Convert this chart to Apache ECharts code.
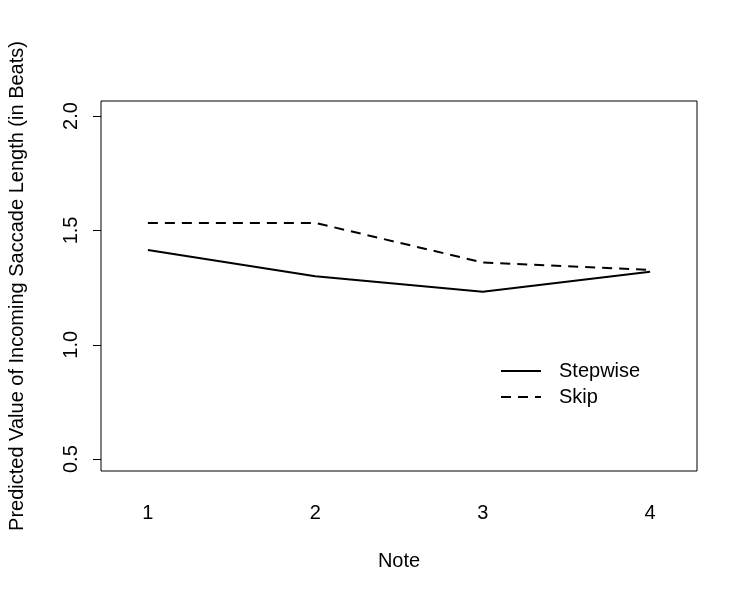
<!DOCTYPE html>
<html>
<head>
<meta charset="utf-8">
<script src="https://cdn.jsdelivr.net/npm/echarts@6/dist/echarts.min.js"></script>
<style>
  html, body { margin: 0; padding: 0; background: #fff; }
  #chart { width: 750px; height: 600px; }
</style>
</head>
<body>
<div id="chart"></div>
<script>
// notes on the x axis
var notes = [1, 2, 3, 4]
// predicted saccade length per note
var stepwise = [1.414, 1.300, 1.232, 1.319]
var skip = [1.533, 1.533, 1.360, 1.327]
var yTicks = [0.5, 1.0, 1.5, 2.0]

var font = 'Liberation Sans, Arial, sans-serif'

function pairs(xs, ys) {
  return xs.map(function (x, i) { return [x, ys[i]] })
}

var chart = echarts.init(document.getElementById('chart'))
chart.setOption({
  animation: false,
  backgroundColor: '#fff',
  textStyle: { fontFamily: font },
  grid: {
    left: 101,
    right: 53,
    top: 101,
    bottom: 129,
    outerBoundsMode: 'none',
    containLabel: false,
    show: true,
    borderColor: '#000',
    borderWidth: 1
  },
  legend: {
    orient: 'vertical',
    left: 495,
    top: 356,
    itemWidth: 40,
    itemHeight: 20,
    itemGap: 6,
    textStyle: { fontSize: 20, color: '#000', fontFamily: font, padding: [0, 0, 0, 13] },
    itemStyle: { opacity: 0 },
    data: ['Stepwise', 'Skip']
  },
  xAxis: {
    type: 'value',
    min: 0.72,
    max: 4.28,
    name: 'Note',
    nameLocation: 'middle',
    nameGap: 80,
    nameTextStyle: { fontSize: 20, color: '#000', fontFamily: font },
    axisLine: { show: false },
    axisTick: { show: false },
    splitLine: { show: false },
    axisLabel: {
      customValues: notes,
      margin: 32,
      fontSize: 20,
      color: '#000',
      fontFamily: font
    }
  },
  yAxis: {
    type: 'value',
    min: 0.448,
    max: 2.066,
    name: 'Predicted Value of Incoming Saccade Length (in Beats)',
    nameLocation: 'middle',
    nameGap: 74,
    nameTextStyle: { fontSize: 20, color: '#000', fontFamily: font },
    axisLine: { show: false },
    splitLine: { show: false },
    axisTick: {
      customValues: yTicks,
      length: 8,
      lineStyle: { color: '#000', width: 1 }
    },
    axisLabel: {
      customValues: yTicks,
      rotate: 90,
      margin: 20,
      fontSize: 20,
      color: '#000',
      fontFamily: font,
      formatter: function (v) { return v.toFixed(1) }
    }
  },
  series: [
    {
      name: 'Stepwise',
      type: 'line',
      symbol: 'none',
      data: pairs(notes, stepwise),
      lineStyle: { color: '#000', width: 2 },
      itemStyle: { color: '#000' }
    },
    {
      name: 'Skip',
      type: 'line',
      symbol: 'none',
      data: pairs(notes, skip),
      lineStyle: { color: '#000', width: 2, type: [10, 7] },
      itemStyle: { color: '#000' }
    }
  ]
})
</script>
</body>
</html>
